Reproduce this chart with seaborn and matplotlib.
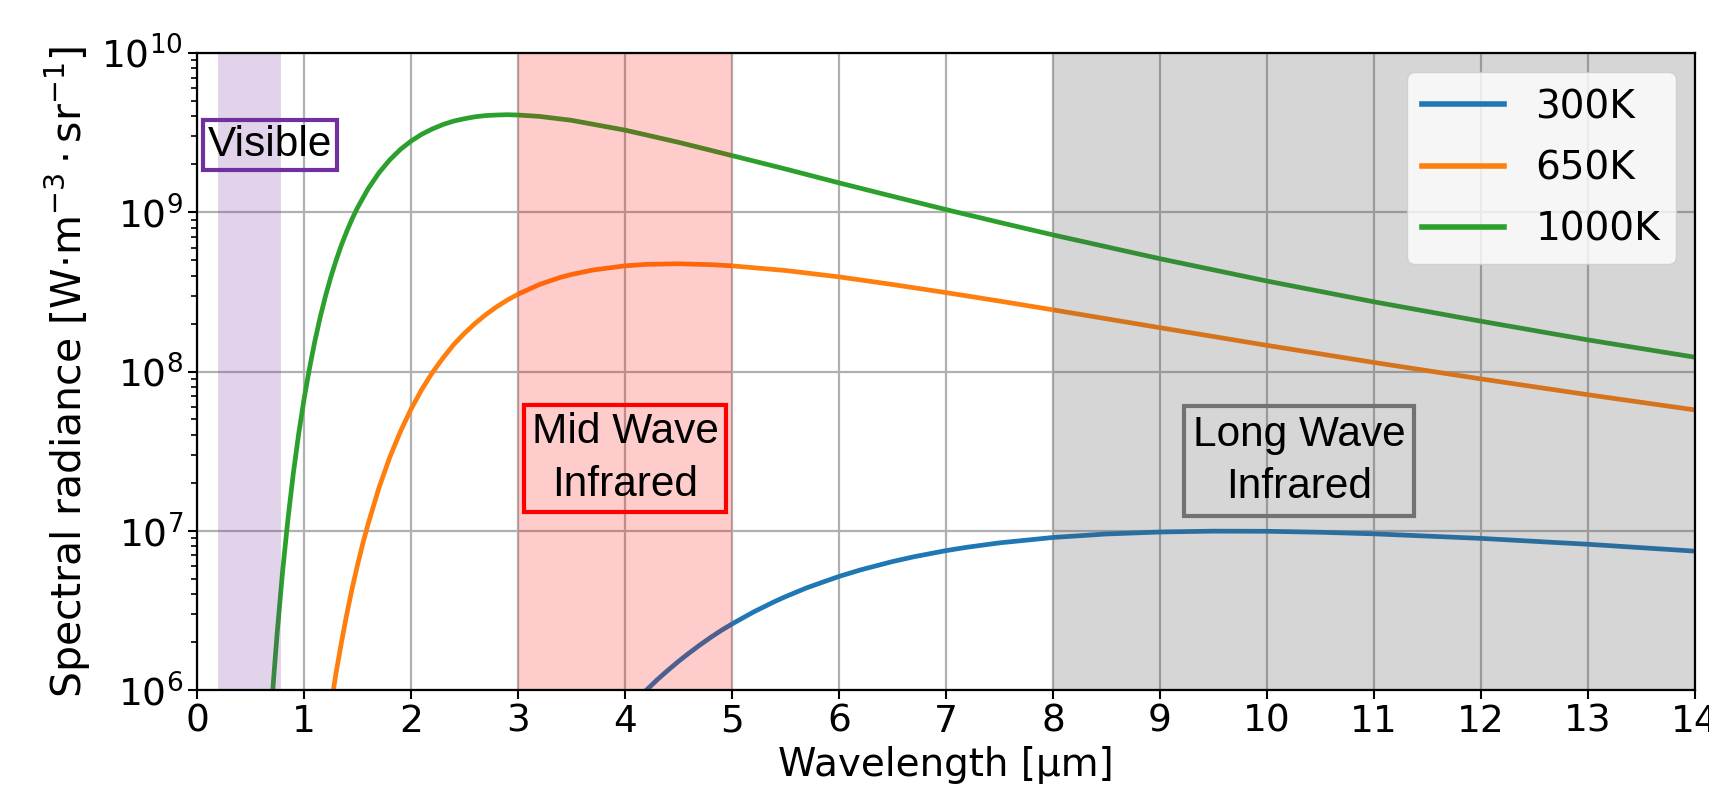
import numpy as np
import pandas as pd
import matplotlib
matplotlib.use("Agg")
import matplotlib.pyplot as plt
import seaborn as sns

# ---- data ----
wl_300 = [4.1, 4.2, 4.3, 4.4, 4.5, 4.6, 4.7, 4.8, 4.9, 5.0, 5.2, 5.4, 5.5, 5.7, 6.0, 6.2,
          6.5, 6.7, 7.0, 7.2, 7.5, 8.0, 8.5, 9.0, 9.5, 10.0, 10.5, 11.0, 12.0, 13.0, 14.0]
rad_300 = [8.55e5, 1.0e6, 1.16e6, 1.33e6, 1.515e6, 1.71e6, 1.92e6, 2.14e6, 2.37e6, 2.6e6,
           3.09e6, 3.60e6, 3.86e6, 4.39e6, 5.17e6, 5.68e6, 6.41e6, 6.87e6, 7.51e6, 7.89e6,
           8.4e6, 9.08e6, 9.55e6, 9.83e6, 9.95e6, 9.93e6, 9.79e6, 9.57e6, 8.96e6, 8.23e6,
           7.45e6]

wl_650 = [1.25, 1.3, 1.35, 1.4, 1.45, 1.5, 1.55, 1.6, 1.7, 1.8, 1.9, 2.0, 2.1, 2.2, 2.3,
          2.4, 2.5, 2.6, 2.7, 2.8, 2.9, 3.0, 3.2, 3.4, 3.5, 3.7, 4.0, 4.2, 4.5, 4.8, 5.0,
          5.5, 6.0, 6.5, 7.0, 7.5, 8.0, 9.0, 10.0, 11.0, 12.0, 13.0, 14.0]
rad_650 = [7.9e5, 1.29e6, 2.0e6, 3.01e6, 4.36e6, 6.11e6, 8.36e6, 1.11e7, 1.86e7, 2.88e7,
           4.19e7, 5.81e7, 7.71e7, 9.86e7, 1.22e8, 1.48e8, 1.74e8, 2.01e8, 2.28e8, 2.55e8,
           2.81e8, 3.06e8, 3.52e8, 3.91e8, 4.07e8, 4.34e8, 4.61e8, 4.71e8, 4.75e8, 4.69e8,
           4.61e8, 4.31e8, 3.93e8, 3.52e8, 3.13e8, 2.77e8, 2.44e8, 1.885e8, 1.46e8, 1.14e8,
           8.99e7, 7.15e7, 5.74e7]

wl_1000 = [0.7, 0.72, 0.75, 0.8, 0.85, 0.9, 0.95, 1.0, 1.05, 1.1, 1.15, 1.2, 1.25, 1.3,
           1.35, 1.4, 1.45, 1.5, 1.6, 1.7, 1.8, 1.9, 2.0, 2.1, 2.2, 2.3, 2.4, 2.5, 2.6, 2.7,
           2.8, 2.9, 3.0, 3.2, 3.5, 4.0, 4.5, 5.0, 5.5, 6.0, 6.5, 7.0, 7.5, 8.0, 9.0, 10.0,
           11.0, 12.0, 13.0, 14.0]
rad_1000 = [8.4e5, 1.29e6, 2.33e6, 5.6e6, 1.19e7, 2.3e7, 4.07e7, 6.71e7, 1.04e8, 1.54e8,
            2.18e8, 2.97e8, 3.91e8, 5.0e8, 6.25e8, 7.61e8, 9.11e8, 1.07e9, 1.41e9, 1.77e9,
            2.13e9, 2.48e9, 2.8e9, 3.09e9, 3.34e9, 3.56e9, 3.74e9, 3.87e9, 3.98e9, 4.05e9,
            4.08e9, 4.10e9, 4.08e9, 4.0e9, 3.78e9, 3.28e9, 2.75e9, 2.27e9, 1.87e9, 1.53e9,
            1.26e9, 1.04e9, 8.64e8, 7.21e8, 5.11e8, 3.7e8, 2.74e8, 2.07e8, 1.58e8, 1.23e8]

series_names = ["300K", "650K", "1000K"]
series_colors = ["#1f77b4", "#ff7f0e", "#2ca02c"]

x_ticks = list(range(0, 15))

visible_band = (0.2, 0.78)
mwir_band = (3.0, 5.0)
lwir_band = (8.0, 14.0)

df = pd.concat([
    pd.DataFrame({"Wavelength": wl_300, "Radiance": rad_300, "T": series_names[0]}),
    pd.DataFrame({"Wavelength": wl_650, "Radiance": rad_650, "T": series_names[1]}),
    pd.DataFrame({"Wavelength": wl_1000, "Radiance": rad_1000, "T": series_names[2]}),
], ignore_index=True)

fig = plt.figure(figsize=(17.09, 7.95), dpi=100)
ax = fig.add_axes([0.1153, 0.132, 0.8765, 0.8013])

sns.lineplot(data=df, x="Wavelength", y="Radiance", hue="T", hue_order=series_names,
             palette=series_colors, linewidth=3.4, ax=ax, sort=False, estimator=None)

ax.set_yscale("log")
ax.set_xlim(0, 14)
ax.set_ylim(1e6, 1e10)
ax.set_xticks(x_ticks)

ax.grid(True, which="major", color="#b0b0b0", linewidth=1.6)
ax.set_axisbelow(True)

# spans drawn over the curves (tinting them)
ax.axvspan(*visible_band, color="#6a2c9a", alpha=0.2, lw=0, zorder=5)
ax.axvspan(*mwir_band, color="#ff0000", alpha=0.2, lw=0, zorder=5)
ax.axvspan(*lwir_band, color="#555555", alpha=0.24, lw=0, zorder=5)

ann_font = dict(family="Liberation Sans", fontsize=30.5, ha="center", va="center",
                linespacing=1.4, zorder=6)
ax.text(0.68, 2.66e9, "Visible",
        bbox=dict(boxstyle="square,pad=0.12", fc="none", ec="#7030a0", lw=3), **ann_font)
ax.text(4.0, 2.85e7, "Mid Wave\nInfrared",
        bbox=dict(boxstyle="square,pad=0.18", fc="none", ec="#ff0000", lw=3), **ann_font)
ax.text(10.3, 2.75e7, "Long Wave\nInfrared",
        bbox=dict(boxstyle="square,pad=0.2", fc="none", ec="#767171", lw=3), **ann_font)

ax.set_xlabel("Wavelength [µm]", fontsize=28, labelpad=4)
ax.set_ylabel(r"Spectral radiance [W·m$^{-3}\cdot$sr$^{-1}$]", fontsize=29.5, labelpad=6)
ax.tick_params(axis="both", which="major", labelsize=27, length=6.5, width=1.5)
ax.tick_params(axis="both", which="minor", length=4, width=1.2)
for s in ax.spines.values():
    s.set_linewidth(1.6)
    s.set_zorder(7)

leg = ax.legend(loc="upper right", fontsize=28, framealpha=0.8, handlelength=2.1,
                labelspacing=0.6, borderaxespad=0.5, title=None)
leg.set_zorder(8)
for line in leg.get_lines():
    line.set_linewidth(4)

fig.savefig("out.png", dpi=100)
